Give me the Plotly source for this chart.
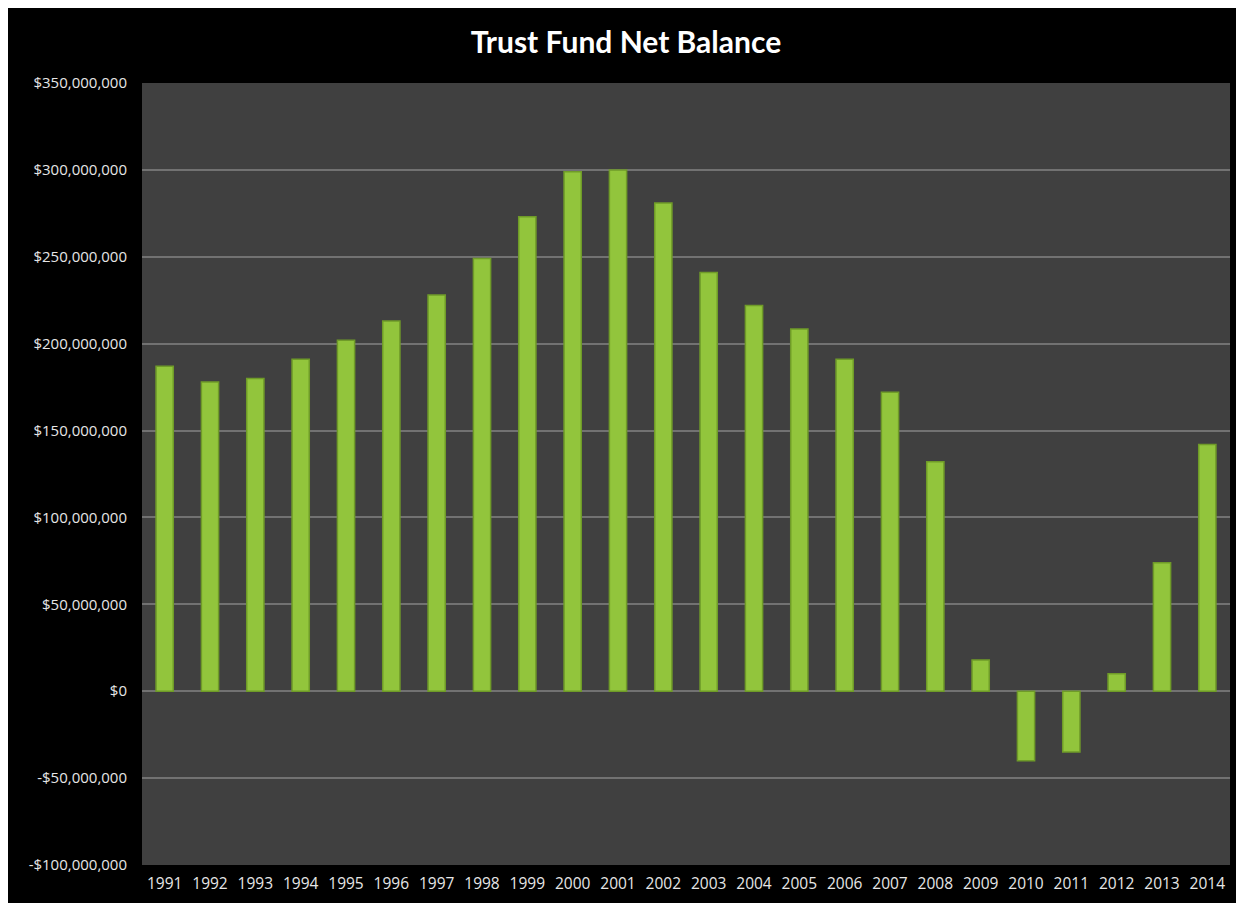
import plotly.graph_objects as go

years = [str(y) for y in range(1991, 2015)]
balance_millions = [187, 178, 180, 191, 202, 213, 228, 249, 273, 299, 300, 281,
                    241, 222, 208.5, 191, 172, 132, 18, -40, -35, 10, 74, 142]
tick_vals = [-100e6, -50e6, 0, 50e6, 100e6, 150e6, 200e6, 250e6, 300e6, 350e6]
tick_text = ["-$100,000,000", "-$50,000,000", "$0", "$50,000,000", "$100,000,000",
             "$150,000,000", "$200,000,000", "$250,000,000", "$300,000,000", "$350,000,000"]

values = [v * 1e6 for v in balance_millions]

fig = go.Figure()
fig.add_trace(go.Bar(
    x=years, y=values,
    marker=dict(color="#92c53c", line=dict(color="#6f9b28", width=1.5)),
    width=0.38,
))

font_family = "Open Sans, Lato, sans-serif"
fig.update_layout(
    width=1236, height=895,
    paper_bgcolor="black",
    plot_bgcolor="#404040",
    margin=dict(l=134, r=14, t=75, b=38, autoexpand=False),
    showlegend=False,
    title=dict(text="<b>Trust Fund Net Balance</b>", x=0.5, xanchor="center",
               y=0.962, yanchor="middle",
               font=dict(family="Lato, Open Sans, sans-serif", size=30, color="white")),
    xaxis=dict(type="category", showgrid=False, zeroline=False, showline=False,
               ticks="", ticklabelstandoff=7, automargin=False,
               tickfont=dict(family=font_family, size=15.5, color="#e6e6e6")),
    yaxis=dict(range=[-100e6, 350e6], tickvals=tick_vals, ticktext=tick_text,
               showgrid=True, gridcolor="#727272", gridwidth=2,
               zeroline=True, zerolinecolor="#727272", zerolinewidth=2,
               ticks="", ticklen=0, ticklabelstandoff=14, automargin=False,
               tickfont=dict(family=font_family, size=15, color="#e6e6e6")),
)

fig.write_html("out.html")
